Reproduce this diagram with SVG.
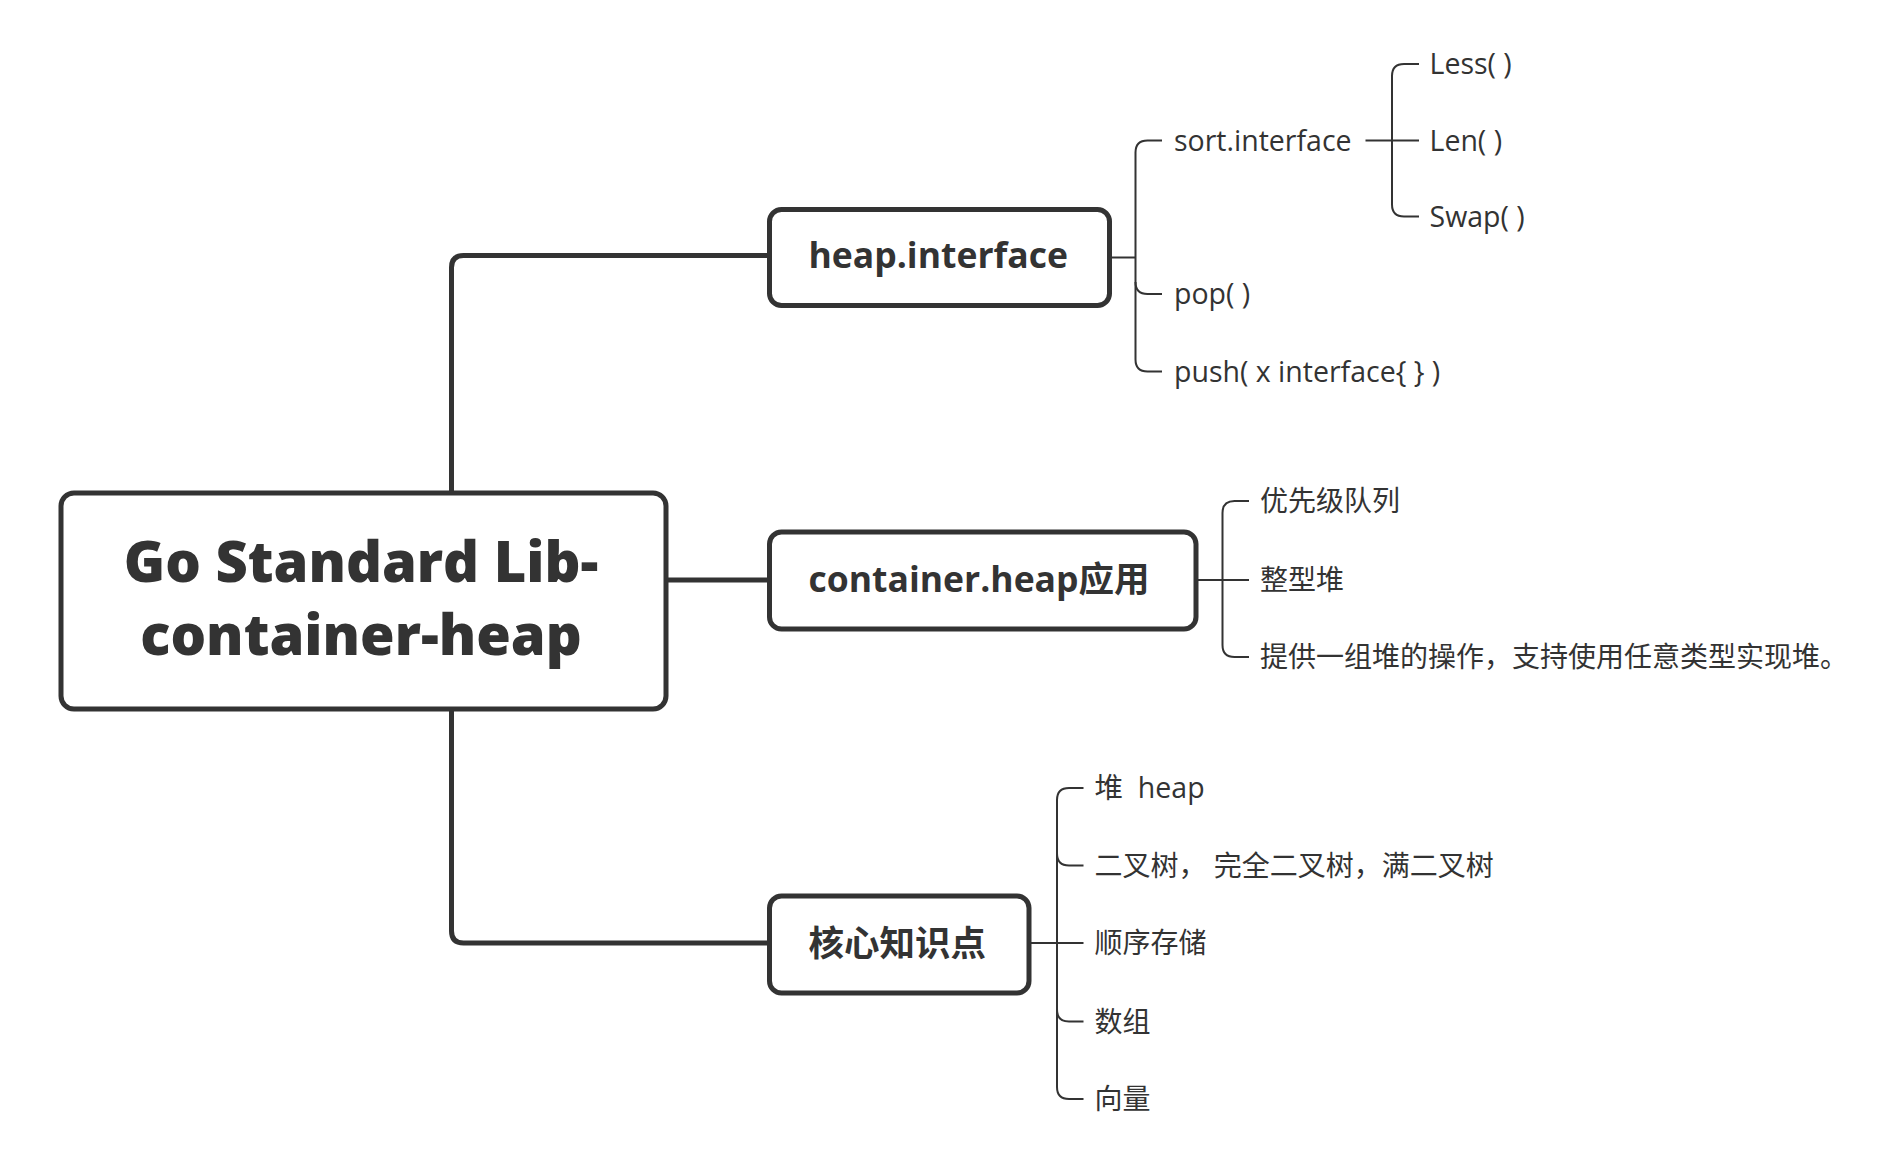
<svg xmlns="http://www.w3.org/2000/svg" width="1898" height="1154" viewBox="0 0 1898 1154">
<style>
.box{fill:#fff;stroke:#333;stroke-width:5}
.main{fill:none;stroke:#333;stroke-width:5}
.sub{fill:none;stroke:#333;stroke-width:2}
.t{font-family:"Open Sans","Noto Sans CJK SC",sans-serif;fill:#333;font-size:28.5px;white-space:pre}
.c{font-size:28px}
.nt{font-family:"Open Sans","Noto Sans CJK SC",sans-serif;fill:#333;font-size:35.5px;font-weight:700}
.rt{font-family:"Open Sans","Noto Sans CJK SC",sans-serif;fill:#333;font-size:56px;font-weight:800;text-anchor:middle}
</style>
<rect width="1898" height="1154" fill="#fff"/>
<g id="connectors">
<path class="main" d="M451.5 493 V267.5 Q451.5 255.5 463.5 255.5 H768"/>
<path class="main" d="M666 580 H768"/>
<path class="main" d="M451.5 709 V931 Q451.5 943 463.5 943 H768"/>
<path class="sub" d="M1110 257.5 H1135.5"/>
<path class="sub" d="M1162 140.5 H1147.5 Q1135.5 140.5 1135.5 152.5 V359.5 Q1135.5 371.5 1147.5 371.5 H1162"/>
<path class="sub" d="M1135.5 282 Q1135.5 294 1147.5 294 H1162"/>
<path class="sub" d="M1365.5 140.5 H1419"/>
<path class="sub" d="M1419 64 H1404 Q1392 64 1392 76 V204.5 Q1392 216.5 1404 216.5 H1419"/>
<path class="sub" d="M1196 580 H1249"/>
<path class="sub" d="M1249 501 H1234.5 Q1222.5 501 1222.5 513 V645 Q1222.5 657 1234.5 657 H1249"/>
<path class="sub" d="M1029 943 H1083.5"/>
<path class="sub" d="M1083.5 788 H1069 Q1057 788 1057 800 V1087 Q1057 1099 1069 1099 H1083.5"/>
<path class="sub" d="M1057 853.5 Q1057 865.5 1069 865.5 H1083.5"/>
<path class="sub" d="M1057 1009.5 Q1057 1021.5 1069 1021.5 H1083.5"/>
</g>
<g id="root">
<rect class="box" x="61" y="493" width="605" height="216" rx="13"/>
<text class="rt" x="361" y="582">Go Standard Lib-</text>
<text class="rt" x="361" y="655">container-heap</text>
</g>
<g id="heap-interface">
<rect class="box" x="769.5" y="209.5" width="340" height="96" rx="12"/>
<text class="nt" x="808.5" y="268">heap.interface</text>
</g>
<g id="sort-interface"><text class="t" x="1174" y="150.5">sort.interface</text></g>
<g id="less"><text class="t" x="1429.5" y="74">Less( )</text></g>
<g id="len"><text class="t" x="1429.5" y="150.5">Len( )</text></g>
<g id="swap"><text class="t" x="1429.5" y="226.5">Swap( )</text></g>
<g id="pop"><text class="t" x="1174" y="304">pop( )</text></g>
<g id="push"><text class="t" x="1174" y="381.5">push( x interface{ } )</text></g>
<g id="container-heap">
<rect class="box" x="769.5" y="532" width="426.5" height="97" rx="12"/>
<text class="nt" x="808.5" y="591.5">container.heap应用</text>
</g>
<g id="pq"><text class="t c" x="1260" y="511">优先级队列</text></g>
<g id="intheap"><text class="t c" x="1260" y="590">整型堆</text></g>
<g id="ops"><text class="t c" x="1260" y="667">提供一组堆的操作，支持使用任意类型实现堆。</text></g>
<g id="core">
<rect class="box" x="769.5" y="896" width="259.5" height="97" rx="12"/>
<text class="nt" x="808.5" y="956">核心知识点</text>
</g>
<g id="heap"><text class="t" x="1094.5" y="798">堆  heap</text></g>
<g id="tree"><text class="t c" x="1094.5" y="875.5">二叉树， 完全二叉树，满二叉树</text></g>
<g id="seq"><text class="t c" x="1094.5" y="953">顺序存储</text></g>
<g id="arr"><text class="t c" x="1094.5" y="1031.5">数组</text></g>
<g id="vec"><text class="t c" x="1094.5" y="1109">向量</text></g>
</svg>
